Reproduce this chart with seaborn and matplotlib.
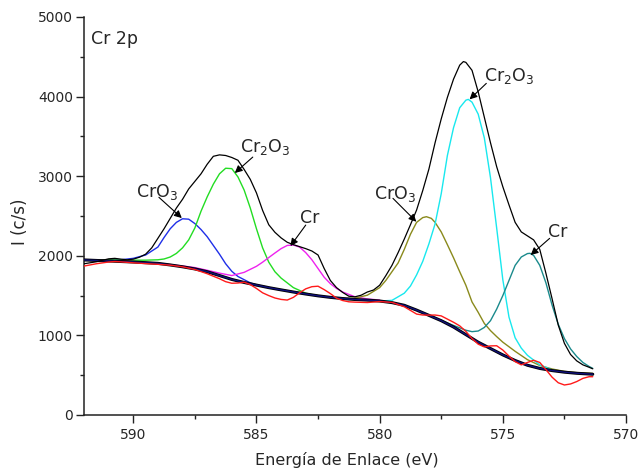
import numpy as np
import pandas as pd
import matplotlib
matplotlib.use("Agg")
import matplotlib.pyplot as plt
import seaborn as sns

# ---------------- data ----------------
BG_E = [592, 591, 590, 589, 588.5, 588, 587.5, 587, 586.5, 586, 585.5, 585, 584.5, 584,
        583.5, 583, 582.5, 582, 581.5, 581, 580.5, 580, 579.5, 579, 578.5, 578, 577.5,
        577, 576.5, 576, 575.5, 575, 574.5, 574, 573.5, 573, 572.5, 572, 571.5, 571.35]
BG_I = [1948, 1935, 1922, 1905, 1885, 1862, 1835, 1800, 1752, 1703, 1665, 1632, 1600, 1572,
        1545, 1520, 1497, 1478, 1463, 1451, 1443, 1432, 1412, 1378, 1318, 1252, 1185,
        1105, 1010, 915, 835, 755, 685, 625, 585, 558, 538, 524, 515, 512]

BLUE_E = [592, 591, 590.5, 590, 589.5, 589, 588.75, 588.5, 588.25, 588, 587.75, 587.5,
          587.25, 587, 586.75, 586.5, 586.25, 586, 585.75, 585.5, 585.25, 585, 584.5, 584,
          583, 582, 581, 580]
BLUE_I = [1950, 1945, 1950, 1968, 2010, 2110, 2230, 2340, 2420, 2465, 2460, 2405,
          2330, 2240, 2130, 2020, 1900, 1805, 1740, 1700, 1660, 1635, 1602, 1573,
          1520, 1478, 1451, 1432]

GREEN_E = [592, 590, 589.5, 589, 588.75, 588.5, 588.25, 588, 587.75, 587.5, 587.25, 587,
           586.75, 586.5, 586.25, 586, 585.75, 585.5, 585.25, 585, 584.75, 584.5, 584.25,
           584, 583.5, 583, 582.5, 582, 581.5, 581, 580.5]
GREEN_I = [1950, 1945, 1945, 1950, 1960, 1985, 2030, 2100, 2200, 2350, 2560, 2740,
           2900, 3030, 3100, 3095, 2990, 2826, 2600, 2340, 2100, 1920, 1800,
           1720, 1600, 1530, 1497, 1478, 1463, 1451, 1443]

MAG_E = [592, 590, 589, 588, 587.5, 587, 586.5, 586, 585.5, 585, 584.75, 584.5, 584.25,
         584, 583.75, 583.5, 583.25, 583, 582.75, 582.5, 582.25, 582, 581.75, 581.5, 581,
         580.5, 580]
MAG_I = [1950, 1928, 1908, 1872, 1852, 1818, 1782, 1752, 1792, 1868, 1920, 1978, 2035,
         2090, 2130, 2135, 2110, 2040, 1950, 1840, 1730, 1650, 1590, 1545, 1485,
         1458, 1444]

OLIVE_E = [581.5, 581, 580.5, 580, 579.75, 579.5, 579.25, 579, 578.75, 578.5, 578.25,
           578.1, 577.9, 577.75, 577.5, 577.25, 577, 576.75, 576.5, 576.25, 576, 575.75,
           575.5, 575.25, 575, 574.5, 574, 573.5, 573, 572.5, 572, 571.35]
OLIVE_I = [1463, 1468, 1505, 1600, 1690, 1800, 1910, 2080, 2270, 2420, 2480,
           2491, 2470, 2420, 2300, 2140, 1975, 1800, 1630, 1420, 1290, 1150,
           1060, 985, 915, 800, 695, 622, 578, 548, 532, 522]

CYAN_E = [580, 579.5, 579, 578.75, 578.5, 578.25, 578, 577.75, 577.5, 577.25, 577, 576.75,
          576.5, 576.4, 576.25, 576, 575.75, 575.5, 575.25, 575, 574.75, 574.5, 574.25,
          574, 573.5, 573, 572.5, 572, 571.35]
CYAN_I = [1432, 1440, 1530, 1620, 1760, 1930, 2150, 2400, 2780, 3260, 3610, 3860,
          3955, 3965, 3930, 3780, 3480, 2980, 2350, 1700, 1230, 970, 840,
          750, 630, 565, 538, 524, 512]

TEAL_E = [577.5, 577, 576.5, 576.25, 576, 575.75, 575.5, 575.25, 575, 574.75, 574.5,
          574.25, 574, 573.9, 573.75, 573.5, 573.25, 573, 572.75, 572.5, 572.25, 572,
          571.75, 571.5, 571.35]
TEAL_I = [1190, 1125, 1065, 1047, 1055, 1100, 1185, 1330, 1500, 1690, 1880,
          1985, 2028, 2031, 2005, 1880, 1660, 1380, 1140, 960, 830, 735,
          660, 610, 586]

RED_E = [592, 591.5, 591, 590.75, 590.5, 590, 589.5, 589, 588.5, 588, 587.5, 587, 586.5,
         586.25, 586, 585.75, 585.5, 585.25, 585, 584.75, 584.5, 584.25, 584, 583.75,
         583.5, 583.25, 583, 582.75, 582.5, 582.25, 582, 581.75, 581.5, 581.25, 581,
         580.5, 580, 579.5, 579, 578.5, 578.25, 578, 577.75, 577.5, 577.25, 577, 576.75,
         576.5, 576.25, 576, 575.75, 575.5, 575.25, 575, 574.75, 574.5, 574.25, 574,
         573.75, 573.5, 573.25, 573, 572.75, 572.5, 572.25, 572, 571.75, 571.5, 571.35]
RED_I = [1871, 1900, 1922, 1928, 1924, 1912, 1902, 1893, 1882, 1862, 1828, 1775, 1712,
         1675, 1655, 1658, 1668, 1638, 1590, 1535, 1500, 1470, 1452, 1444,
         1478, 1535, 1585, 1612, 1618, 1575, 1525, 1468, 1438, 1422, 1418,
         1413, 1425, 1415, 1360, 1268, 1256, 1255, 1256, 1245, 1205, 1165, 1120,
         1050, 960, 890, 855, 868, 870, 816, 740, 670, 630, 660,
         688, 660, 570, 475, 405, 377, 390, 420, 460, 481, 481]

ENV_E = [592, 591.5, 591, 590.75, 590.5, 590.25, 590, 589.75, 589.5, 589.25, 589, 588.75,
         588.5, 588.25, 588, 587.75, 587.5, 587.25, 587, 586.75, 586.5, 586.25, 586,
         585.75, 585.5, 585.25, 585, 584.75, 584.5, 584.25, 584, 583.75, 583.5, 583.25,
         583, 582.75, 582.5, 582.25, 582, 581.75, 581.5, 581.25, 581, 580.75, 580.5,
         580.25, 580, 579.75, 579.5, 579.25, 579, 578.75, 578.5, 578.25, 578, 577.75,
         577.5, 577.25, 577, 576.75, 576.6, 576.5, 576.25, 576, 575.75, 575.5, 575.25,
         575, 574.75, 574.5, 574.25, 574, 573.75, 573.5, 573.25, 573, 572.75, 572.5,
         572.25, 572, 571.75, 571.5, 571.35]
ENV_I = [1900, 1925, 1962, 1968, 1958, 1950, 1958, 1982, 2020, 2100, 2220, 2340,
         2470, 2600, 2710, 2840, 2935, 3030, 3150, 3250, 3268, 3260, 3235,
         3200, 3085, 2960, 2790, 2570, 2390, 2295, 2225, 2170, 2140, 2115,
         2090, 2060, 2010, 1840, 1690, 1600, 1540, 1492, 1485, 1505, 1545,
         1570, 1630, 1750, 1880, 2040, 2210, 2390, 2575, 2820, 3090, 3420,
         3720, 3990, 4220, 4395, 4440, 4430, 4330, 4060, 3740, 3420, 3120,
         2868, 2640, 2420, 2300, 2250, 2200, 2080, 1780, 1460, 1130, 900,
         760, 680, 630, 600, 580]

LABELS = ["CrO$_3$", "Cr$_2$O$_3$", "Cr", "CrO$_3$", "Cr$_2$O$_3$", "Cr"]
LABEL_XY = [(589.04, 2800), (584.66, 3370), (582.84, 2480),
            (579.39, 2780), (574.75, 4260), (572.78, 2300)]
ARROW_TAIL = [(588.96, 2735), (585.15, 3240), (583.0, 2386),
              (579.46, 2722), (575.67, 4166), (573.1, 2219)]
ARROW_HEAD = [(588.03, 2474), (585.88, 3040), (583.62, 2123),
              (578.51, 2428), (576.35, 3965), (573.87, 2010)]

XTICKS = [590, 585, 580, 575, 570]
YTICKS = [0, 1000, 2000, 3000, 4000, 5000]

# ---------------- plotting ----------------
sns.set_style("ticks")
plt.rcParams["font.family"] = ["DejaVu Sans"]
plt.rcParams["mathtext.default"] = "regular"

fig = plt.figure(figsize=(6.42, 4.71), dpi=100)
ax = fig.add_axes([84 / 642, 1 - 415 / 471, 542 / 642, 398 / 471])


def draw(E, I, color, lw, z):
    df = pd.DataFrame({"E": E, "I": I})
    sns.lineplot(data=df, x="E", y="I", color=color, lw=lw, sort=False,
                 estimator=None, ax=ax, zorder=z)


draw(BLUE_E, BLUE_I, "#1f2fe8", 1.0, 3)
draw(GREEN_E, GREEN_I, "#22dd22", 1.0, 3)
draw(MAG_E, MAG_I, "#ee22ee", 1.0, 3)
draw(OLIVE_E, OLIVE_I, "#8a8a1c", 1.0, 3)
draw(CYAN_E, CYAN_I, "#18e8ee", 1.0, 3)
draw(TEAL_E, TEAL_I, "#1a8a8c", 1.0, 3)
draw(BG_E, BG_I, "black", 2.2, 4)
draw(BG_E, BG_I, "#10107a", 1.0, 4.1)
draw(RED_E, RED_I, "#ff1a1a", 1.0, 4.5)
draw(ENV_E, ENV_I, "black", 0.9, 5)

for lab, xy, tail, head in zip(LABELS, LABEL_XY, ARROW_TAIL, ARROW_HEAD):
    ax.text(xy[0], xy[1], lab, ha="center", va="center", fontsize=12.5, zorder=6)
    ax.annotate("", xy=head, xytext=tail,
                arrowprops=dict(arrowstyle="-|>", color="black", lw=0.8,
                                mutation_scale=11, shrinkA=0, shrinkB=0),
                zorder=6)

ax.text(591.7, 4720, "Cr 2p", ha="left", va="center", fontsize=12.5)

ax.set_xlim(592, 570)
ax.set_ylim(0, 5000)
ax.set_xticks(XTICKS)
ax.set_xticks([587.5, 582.5, 577.5, 572.5], minor=True)
ax.set_yticks(YTICKS)
ax.set_yticks([500, 1500, 2500, 3500, 4500], minor=True)
ax.tick_params(axis="both", which="major", length=5.5, width=1.0, labelsize=10,
               direction="out", color="#222222")
ax.tick_params(axis="both", which="minor", length=3, width=1.0, direction="out",
               color="#222222")
ax.tick_params(axis="x", which="major", pad=4)
ax.tick_params(axis="y", which="major", pad=2.5)
sns.despine(ax=ax)
for sp in ["left", "bottom"]:
    ax.spines[sp].set_linewidth(1.1)
    ax.spines[sp].set_color("#222222")

ax.set_xlabel("Energía de Enlace (eV)", fontsize=11.5)
ax.set_ylabel("I (c/s)", fontsize=12)
ax.xaxis.set_label_coords(0.485, -0.093)
ax.yaxis.set_label_coords(-0.101, 0.485)

fig.savefig("out.png", dpi=100)
